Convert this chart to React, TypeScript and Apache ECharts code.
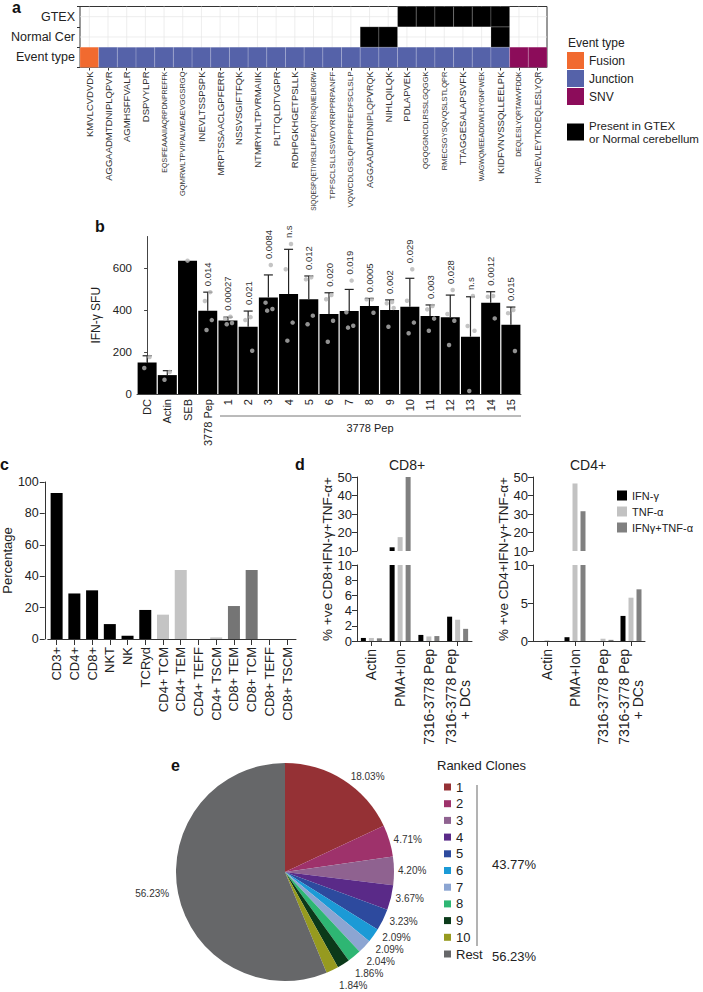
import React, { useEffect, useRef } from 'react';
import * as echarts from 'echarts';

const FONT = 'Liberation Sans, Arial, Helvetica, sans-serif';

// ---------------- Panel a data ----------------
const peptides = [
  'KMVLCVDVDK', 'AGGAADMTDNIPLQPVR', 'AGMHSFFVALR', 'DSPVYLPR', 'EQSIFEAAAIIAQRPDNPREFFK',
  'GQMRWLTPVIPALWEAEVGGSRGQ', 'INEVLTSSPSPK', 'MRPTSSAACLGPFERR', 'NSSVSGIFTFQK', 'NTMRYHLTPVRMAIIK',
  'PLTTQLDTVGPR', 'RDHPGKHGETPSLLK', 'SIQQESPQETIYRSLLPPEAQTRSQMELRGRW', 'TPFSCLSLLSSWDYRRPPRPANFF',
  'VQWCDLGSLQPPPPRFEDFSCLSLP', 'AGGAADMTDNIPLQPVRQK', 'NIHLQILQK', 'PDLAPVEK', 'QGQGGNCDLRSSLGQGGK',
  'RMECSGYSQVQSLSTLQPR', 'TTAGGESALAPSVFK', 'WAGWQMEEADDWLRYGNPWEK', 'KIDFVNVSSQLLEELPK',
  'DEQLESLYQRTAWVFDDK', 'HVAEVLEYTKDEQLESLYQR',
];
const heatRows = ['Event type', 'Normal Cer', 'GTEX'];
const eventTypeNames = ['Fusion', 'Junction', 'SNV'];
const eventType = [
  'Fusion', 'Junction', 'Junction', 'Junction', 'Junction', 'Junction', 'Junction', 'Junction', 'Junction',
  'Junction', 'Junction', 'Junction', 'Junction', 'Junction', 'Junction', 'Junction', 'Junction', 'Junction',
  'Junction', 'Junction', 'Junction', 'Junction', 'Junction', 'SNV', 'SNV',
];
const presentGTEX = [0, 0, 0, 0, 0, 0, 0, 0, 0, 0, 0, 0, 0, 0, 0, 0, 0, 1, 1, 1, 1, 1, 1, 0, 0];
const presentNormalCer = [0, 0, 0, 0, 0, 0, 0, 0, 0, 0, 0, 0, 0, 0, 0, 1, 1, 0, 0, 0, 0, 0, 1, 0, 0];
const presentName = 'Present in GTEX\nor Normal cerebellum';

// ---------------- Panel b data ----------------
const bCategories = ['DC', 'Actin', 'SEB', '3778 Pep', '1', '2', '3', '4', '5', '6', '7', '8', '9', '10', '11', '12', '13', '14', '15'];
const bMeans = [150, 90, 635, 397, 350, 320, 460, 476, 451, 381, 395, 419, 400, 416, 371, 365, 273, 435, 330];
const bSD = [32, 21, 0, 88, 16, 75, 107, 213, 111, 101, 103, 36, 48, 135, 53, 106, 190, 52, 84];
const bDots = [
  [176, 124], [105, 68], [635], [485, 443, 352, 305], [368, 360, 338, 332], [366, 352, 206],
  [614, 435, 405, 397], [714, 594, 340, 254], [556, 546, 373, 332], [471, 451, 349, 249],
  [540, 389, 325, 316], [451, 451, 387], [438, 432, 410, 320], [594, 444, 340, 289],
  [419, 403, 359, 301], [495, 381, 349, 233], [467, 324, 301, 14], [467, 463, 360], [400, 385, 205],
];
const bPValues = ['', '', '', '0.014', '0.00027', '0.021', '0.0084', 'n.s', '0.012', '0.020', '0.019', '0.0005', '0.002', '0.029', '0.003', '0.028', 'n.s', '0.0012', '0.015'];
const bYTicks = [0, 200, 400, 600];

// ---------------- Panel c data ----------------
const cCategories = ['CD3+', 'CD4+', 'CD8+', 'NKT', 'NK', 'TCRyd', 'CD4+ TCM', 'CD4+ TEM', 'CD4+ TEFF', 'CD4+ TSCM', 'CD8+ TEM', 'CD8+ TCM', 'CD8+ TEFF', 'CD8+ TSCM'];
const cValues = [93, 29, 31, 9.5, 2, 18.5, 15.5, 44, 0, 1, 21, 44, 0, 0];
const cSubset = ['all', 'all', 'all', 'all', 'all', 'all', 'CD4', 'CD4', 'CD4', 'CD4', 'CD8', 'CD8', 'CD8', 'CD8'];

// ---------------- Panel d data ----------------
const dCategories = ['Actin', 'PMA+Ion', '7316-3778 Pep', '7316-3778 Pep\n+ DCs        '];
const dSeriesNames = ['IFN-γ', 'TNF-α', 'IFNγ+TNF-α'];
const cd8IFNg = [0.4, 12, 0.8, 3.2];
const cd8TNFa = [0.4, 17.5, 0.6, 2.8];
const cd8Both = [0.35, 50, 0.65, 1.6];
const cd4IFNg = [0, 0.5, 0, 3.3];
const cd4TNFa = [0.1, 46.5, 0.3, 5.7];
const cd4Both = [0, 31.5, 0.15, 6.8];

// ---------------- Panel e data ----------------
const cloneNames = ['1', '2', '3', '4', '5', '6', '7', '8', '9', '10', 'Rest'];
const clonePercent = [18.03, 4.71, 4.2, 3.67, 3.23, 2.09, 2.09, 2.04, 1.86, 1.84, 56.23];
const top10Label = '43.77%';
const restLabel = '56.23%';

// ---------------- styles ----------------
const eventColors: Record<string, string> = { Fusion: '#F16A2F', Junction: '#5562A9', SNV: '#8C0C5A' };
const peptideLabelSize = [9.5, 9.5, 9.5, 9.5, 7, 7.5, 9.5, 9.5, 9.5, 9.5, 9.5, 9.5, 6.5, 8, 8, 9, 9.5, 9.5, 7.5, 7.5, 9.5, 7, 9.5, 7, 8.5];
const subsetColors: Record<string, string> = { all: '#000000', CD4: '#c4c4c4', CD8: '#757575' };
const dColors = ['#000000', '#c2c2c2', '#808080'];
const cloneColors = ['#953135', '#9E326B', '#8F6290', '#5A2A88', '#2D4A9E', '#1B9AD6', '#8CA5D2', '#2EB673', '#0B3A1A', '#969A1F', '#666769'];
const dotJitter = [0.12, -0.14, 0.2, -0.06];

function buildOption() {
  const cellData: Record<string, number[][]> = { Fusion: [], Junction: [], SNV: [] };
  eventType.forEach((t, i) => cellData[t].push([i, 0]));
  const presentData: number[][] = [];
  presentNormalCer.forEach((v, i) => { if (v) presentData.push([i, 1]); });
  presentGTEX.forEach((v, i) => { if (v) presentData.push([i, 2]); });

  const cellRender = (params: any, api: any) => {
    const c = api.coord([api.value(0), api.value(1)]);
    const s = api.size([1, 1]);
    return {
      type: 'rect',
      shape: { x: c[0] - s[0] / 2, y: c[1] - s[1] / 2, width: s[0], height: s[1] },
      style: { fill: api.visual('color'), stroke: 'rgba(255,255,255,0.3)', lineWidth: 0.6 },
    };
  };

  const rich: Record<string, any> = {};
  peptides.forEach((_, i) => {
    rich['p' + i] = { fontSize: peptideLabelSize[i], fontFamily: FONT, color: '#333' };
  });

  const series: any[] = [];
  series.push({
    type: 'custom', name: 'vgrid', xAxisIndex: 0, yAxisIndex: 0, z: 1, silent: true,
    data: peptides.map((_, i) => [i, 0]),
    renderItem: (params: any, api: any) => {
      const x = api.coord([api.value(0), 0])[0];
      const cs = params.coordSys;
      return { type: 'line', shape: { x1: x, y1: cs.y, x2: x, y2: cs.y + cs.height }, style: { stroke: '#e6e6e6', lineWidth: 0.7 } };
    },
  });
  series.push({
    type: 'custom', name: 'hgrid', xAxisIndex: 0, yAxisIndex: 0, z: 1, silent: true,
    data: heatRows.map((_, j) => [0, j]),
    renderItem: (params: any, api: any) => {
      const y = api.coord([0, api.value(1)])[1];
      const cs = params.coordSys;
      return { type: 'line', shape: { x1: cs.x, y1: y, x2: cs.x + cs.width, y2: y }, style: { stroke: '#e6e6e6', lineWidth: 0.7 } };
    },
  });
  eventTypeNames.forEach((name) => {
    series.push({
      type: 'custom', name, xAxisIndex: 0, yAxisIndex: 0, z: 2,
      itemStyle: { color: eventColors[name] },
      data: cellData[name], renderItem: cellRender,
    });
  });
  series.push({
    type: 'custom', name: presentName, xAxisIndex: 0, yAxisIndex: 0, z: 2,
    itemStyle: { color: '#000000' },
    data: presentData, renderItem: cellRender,
  });

  // panel b
  series.push({
    type: 'bar', name: 'bMean', xAxisIndex: 1, yAxisIndex: 1, data: bMeans, barWidth: '94%',
    itemStyle: { color: '#000000' }, z: 2,
  });
  series.push({
    type: 'custom', name: 'bErr', xAxisIndex: 2, yAxisIndex: 1, z: 3,
    data: bMeans.map((m, i) => [i, m, m + bSD[i]]).filter((d, i) => bSD[i] > 0),
    renderItem: (params: any, api: any) => {
      const p0 = api.coord([api.value(0), api.value(1)]);
      const p1 = api.coord([api.value(0), api.value(2)]);
      return {
        type: 'group',
        children: [
          { type: 'line', shape: { x1: p0[0], y1: p0[1], x2: p1[0], y2: p1[1] }, style: { stroke: '#222', lineWidth: 1.2 } },
          { type: 'line', shape: { x1: p1[0] - 4.5, y1: p1[1], x2: p1[0] + 4.5, y2: p1[1] }, style: { stroke: '#222', lineWidth: 1.2 } },
        ],
      };
    },
  });
  const dotData: number[][] = [];
  bDots.forEach((arr, i) => arr.forEach((v, k) => dotData.push([i + dotJitter[k % dotJitter.length] * (arr.length > 1 ? 1 : 0), v])));
  series.push({
    type: 'scatter', name: 'bDots', xAxisIndex: 2, yAxisIndex: 1, z: 4, data: dotData,
    symbolSize: 4.5, itemStyle: { color: '#b5b5b5' },
  });
  series.push({
    type: 'custom', name: 'bP', xAxisIndex: 2, yAxisIndex: 1, z: 5,
    data: bMeans.map((m, i) => [i, Math.max(m + bSD[i], ...bDots[i])]).filter((d, i) => bPValues[i] !== ''),
    renderItem: (params: any, api: any) => {
      const idx = api.value(0);
      const p = api.coord([idx, api.value(1)]);
      return {
        type: 'text', x: p[0], y: p[1] - 6, rotation: Math.PI / 2,
        style: {
          text: bPValues[idx], fontSize: 9.5, fontFamily: FONT, fill: '#333',
          align: 'left', verticalAlign: 'middle', textAlign: 'left', textVerticalAlign: 'middle',
        },
      };
    },
  });

  // panel c
  series.push({
    type: 'bar', name: 'cBars', xAxisIndex: 3, yAxisIndex: 2, barWidth: 12,
    data: cValues.map((v, i) => ({ value: v, itemStyle: { color: subsetColors[cSubset[i]] } })),
  });

  // panel d
  const dGroups = [
    { x: 4, y: 3, vals: [cd8IFNg, cd8TNFa, cd8Both] },
    { x: 5, y: 4, vals: [cd8IFNg, cd8TNFa, cd8Both] },
    { x: 6, y: 5, vals: [cd4IFNg, cd4TNFa, cd4Both] },
    { x: 7, y: 6, vals: [cd4IFNg, cd4TNFa, cd4Both] },
  ];
  dGroups.forEach((g) => {
    g.vals.forEach((vals, k) => {
      series.push({
        type: 'bar', name: dSeriesNames[k], xAxisIndex: g.x, yAxisIndex: g.y, data: vals,
        barWidth: 5, barGap: '60%', clip: true, itemStyle: { color: dColors[k] },
      });
    });
  });

  // panel e
  series.push({
    type: 'pie', name: 'clones', center: [285, 872], radius: 109, startAngle: 90, clockwise: true,
    data: cloneNames.map((n, i) => ({ name: n, value: clonePercent[i], itemStyle: { color: cloneColors[i] } })),
    label: {
      show: true, position: 'outside', fontSize: 10, color: '#333', fontFamily: FONT,
      formatter: (p: any) => p.value.toFixed(2) + '%',
    },
    labelLine: { show: false, length: 4, length2: 0 },
    emphasis: { disabled: true },
  });

  const dYUpper = (gridIndex: number) => ({
    gridIndex, type: 'value', min: 10, max: 50, interval: 10, startValue: 10,
    splitLine: { show: false },
    axisLine: { show: true, lineStyle: { color: '#333' } },
    axisTick: { show: true, length: 5, lineStyle: { color: '#333' } },
    axisLabel: { fontSize: 13, color: '#222', margin: 5, fontFamily: FONT },
  });
  const dYLower = (gridIndex: number, interval: number) => ({
    gridIndex, type: 'value', min: 0, max: 10, interval,
    splitLine: { show: false },
    axisLine: { show: true, lineStyle: { color: '#333' } },
    axisTick: { show: true, length: 5, lineStyle: { color: '#333' } },
    axisLabel: { fontSize: 13, color: '#222', margin: 5, fontFamily: FONT },
  });
  const dXUpper = (gridIndex: number) => ({ gridIndex, type: 'category', data: dCategories, show: false });
  const dXLower = (gridIndex: number) => ({
    gridIndex, type: 'category', data: dCategories,
    axisLine: { show: true, lineStyle: { color: '#333' } },
    axisTick: { show: true, alignWithLabel: true, length: 5, lineStyle: { color: '#333' } },
    axisLabel: { rotate: 90, interval: 0, fontSize: 14, color: '#222', margin: 8, fontFamily: FONT },
  });

  const text = (x: number, y: number, t: string, opts: any = {}) => ({
    type: 'text', x, y, rotation: opts.rotation || 0, silent: true,
    style: {
      text: t, fontSize: opts.fontSize || 12, fontWeight: opts.fontWeight || 'normal', fontFamily: FONT,
      fill: opts.fill || '#222', textAlign: opts.align || 'left', textVerticalAlign: opts.valign || 'middle',
      align: opts.align || 'left', verticalAlign: opts.valign || 'middle',
    },
  });

  return {
    animation: false,
    textStyle: { fontFamily: FONT },
    grid: [
      { left: 80, top: 6.5, width: 467, height: 61, show: true, borderColor: '#333', borderWidth: 1, backgroundColor: '#fff' },
      { left: 137, top: 236.5, width: 384, height: 157.5 },
      { left: 47, top: 482, width: 249, height: 157 },
      { left: 357, top: 477, width: 115, height: 74 },
      { left: 357, top: 565, width: 115, height: 76 },
      { left: 533, top: 477, width: 112, height: 74 },
      { left: 533, top: 565, width: 112, height: 76 },
    ],
    xAxis: [
      {
        gridIndex: 0, type: 'category', data: peptides,
        axisLine: { show: false },
        axisTick: { show: true, alignWithLabel: true, length: 3, lineStyle: { color: '#333' } },
        axisLabel: {
          rotate: 90, interval: 0, margin: 4, rich,
          formatter: (v: string, i: number) => `{p${i}|${v}}`,
        },
        splitLine: { show: false },
      },
      {
        gridIndex: 1, type: 'category', data: bCategories,
        axisLine: { show: true, lineStyle: { color: '#444' } },
        axisTick: { show: false },
        axisLabel: { rotate: 90, interval: 0, fontSize: 11, color: '#222', margin: 5, fontFamily: FONT },
      },
      { gridIndex: 1, type: 'value', min: -0.5, max: 18.5, show: false },
      {
        gridIndex: 2, type: 'category', data: cCategories,
        axisLine: { show: true, lineStyle: { color: '#333' } },
        axisTick: { show: true, alignWithLabel: true, length: 6, lineStyle: { color: '#333' } },
        axisLabel: { rotate: 90, interval: 0, fontSize: 13, color: '#222', margin: 8, fontFamily: FONT },
      },
      dXUpper(3), dXLower(4), dXUpper(5), dXLower(6),
    ],
    yAxis: [
      {
        gridIndex: 0, type: 'category', data: heatRows,
        axisLine: { show: false },
        axisTick: { show: true, length: 3, lineStyle: { color: '#333' } },
        axisLabel: { fontSize: 12.5, color: '#222', margin: 5, fontFamily: FONT },
        splitLine: { show: false },
      },
      {
        gridIndex: 1, type: 'value', min: 0, max: 750, interval: 200,
        name: 'IFN-γ SFU', nameLocation: 'middle', nameGap: 29,
        nameTextStyle: { fontSize: 12, color: '#222', fontFamily: FONT },
        splitLine: { show: false },
        axisLine: { show: true, lineStyle: { color: '#444' } },
        axisTick: { show: true, length: 3, lineStyle: { color: '#444' }, customValues: bYTicks },
        axisLabel: { fontSize: 11.5, color: '#222', margin: 5, fontFamily: FONT, customValues: bYTicks },
      },
      {
        gridIndex: 2, type: 'value', min: 0, max: 100, interval: 20, offset: 3,
        name: 'Percentage', nameLocation: 'middle', nameGap: 25,
        nameTextStyle: { fontSize: 13, color: '#222', fontFamily: FONT },
        splitLine: { show: false },
        axisLine: { show: true, lineStyle: { color: '#333' } },
        axisTick: { show: true, length: 5, lineStyle: { color: '#333' } },
        axisLabel: { fontSize: 12.5, color: '#222', margin: 6, fontFamily: FONT },
      },
      dYUpper(3), dYLower(4, 2), dYUpper(5), dYLower(6, 5),
    ],
    legend: [
      {
        data: eventTypeNames, left: 567, top: 52, orient: 'vertical', itemWidth: 17, itemHeight: 17, itemGap: 1,
        padding: 0, icon: 'rect', selectedMode: false,
        textStyle: { fontSize: 12, color: '#222', fontFamily: FONT },
      },
      {
        data: [presentName], left: 567, top: 119, orient: 'vertical', itemWidth: 17, itemHeight: 17,
        padding: 0, icon: 'rect', selectedMode: false,
        textStyle: { fontSize: 11.5, color: '#222', lineHeight: 13, fontFamily: FONT },
      },
      {
        data: dSeriesNames, left: 617, top: 489, orient: 'vertical', itemWidth: 10, itemHeight: 10, itemGap: 3,
        padding: 0, icon: 'rect', selectedMode: false,
        textStyle: { fontSize: 11, color: '#222', lineHeight: 13, fontFamily: FONT },
      },
      {
        data: cloneNames, left: 444, top: 780, orient: 'vertical', itemWidth: 7, itemHeight: 7, itemGap: 2.7,
        padding: 0, icon: 'rect', selectedMode: false,
        textStyle: { fontSize: 13, color: '#222', lineHeight: 14, fontFamily: FONT },
      },
    ],
    series,
    graphic: [
      text(12, 7, 'a', { fontSize: 16, fontWeight: 'bold', fill: '#111' }),
      text(95, 226, 'b', { fontSize: 16, fontWeight: 'bold', fill: '#111' }),
      text(0, 464, 'c', { fontSize: 16, fontWeight: 'bold', fill: '#111' }),
      text(295, 464, 'd', { fontSize: 16, fontWeight: 'bold', fill: '#111' }),
      text(171, 765, 'e', { fontSize: 16, fontWeight: 'bold', fill: '#111' }),
      text(568, 43, 'Event type', { fontSize: 12 }),
      { type: 'line', silent: true, shape: { x1: 220, y1: 416, x2: 521, y2: 416 }, style: { stroke: '#777', lineWidth: 1 } },
      text(370, 428, '3778 Pep', { fontSize: 11, align: 'center' }),
      text(407, 465, 'CD8+', { fontSize: 14, align: 'center' }),
      text(588, 465, 'CD4+', { fontSize: 14, align: 'center' }),
      text(327, 559, '% +ve CD8+IFN-γ+TNF-α+', { fontSize: 13.5, align: 'center', rotation: Math.PI / 2 }),
      text(503, 559, '% +ve CD4+IFN-γ+TNF-α+', { fontSize: 13.5, align: 'center', rotation: Math.PI / 2 }),
      text(437, 765, 'Ranked Clones', { fontSize: 13 }),
      { type: 'line', silent: true, shape: { x1: 477, y1: 785, x2: 477, y2: 946 }, style: { stroke: '#9a9a9a', lineWidth: 1.5 } },
      text(492, 864, top10Label, { fontSize: 13 }),
      text(492, 956, restLabel, { fontSize: 13 }),
    ],
  };
}

export default function App() {
  const ref = useRef<HTMLDivElement>(null);
  useEffect(() => {
    document.body.style.margin = '0';
    const chart = echarts.init(ref.current as HTMLDivElement, null, { renderer: 'svg' });
    chart.setOption(buildOption() as any);
    return () => chart.dispose();
  }, []);
  return <div ref={ref} style={{ width: 703, height: 992 }} />;
}
